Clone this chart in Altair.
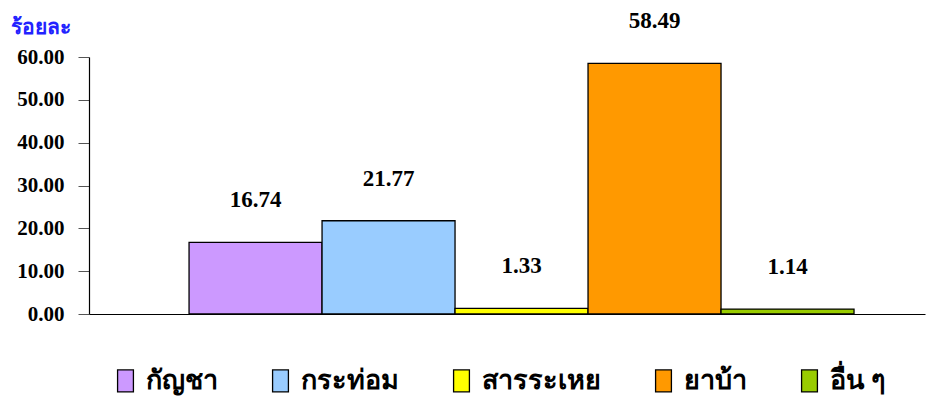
import altair as alt
import pandas as pd

categories = ["กัญชา", "กระท่อม", "สารระเหย", "ยาบ้า", "อื่น ๆ"]
values = [16.74, 21.77, 1.33, 58.49, 1.14]
colors = ["#CC99FF", "#99CCFF", "#FFFF00", "#FF9900", "#99CC00"]
y_ticks = [0, 10, 20, 30, 40, 50, 60]

SERIF = "'Liberation Serif', 'Times New Roman', Times, serif"

df = pd.DataFrame({"cat": categories, "val": values})

x_enc = alt.X(
    "cat:N", sort=categories,
    scale=alt.Scale(paddingInner=0, paddingOuter=0.643, align=0.585),
    axis=alt.Axis(labels=False, ticks=False, title=None, domainColor="black", domainWidth=1.2),
)
y_enc = alt.Y(
    "val:Q",
    scale=alt.Scale(domain=[0, 60], nice=False),
    axis=alt.Axis(
        values=y_ticks, format=".2f", grid=False, tickSize=11, tickColor="#555555",
        domainColor="black", domainWidth=1.2,
        labelFont=SERIF, labelFontWeight="bold", labelFontSize=21,
        labelColor="black", labelPadding=14,
        title="ร้อยละ", titleAngle=0, titleAlign="left", titleBaseline="alphabetic",
        titleX=-79, titleY=-24, titleColor="#2222FF", titleFontSize=21,
        titleFont=SERIF, titleFontWeight="bold",
    ),
)

bars = alt.Chart(df).mark_bar(stroke="black", strokeWidth=1.3).encode(
    x=x_enc, y=y_enc,
    color=alt.Color(
        "cat:N", sort=categories,
        scale=alt.Scale(domain=categories, range=colors),
        legend=alt.Legend(
            orient="none", legendX=23, legendY=310, direction="horizontal", title=None,
            symbolType="M-0.72,-1L0.72,-1L0.72,1L-0.72,1Z", symbolSize=484,
            symbolStrokeColor="black", symbolStrokeWidth=1.3, symbolOpacity=1,
            labelFont=SERIF, labelFontWeight="bold", labelFontSize=27,
            labelColor="black", labelOffset=7, columnPadding=49, labelLimit=300,
        ),
    ),
)

labels = alt.Chart(df).mark_text(
    dy=-42, font=SERIF, fontWeight="bold", fontSize=23,
    color="black", baseline="middle",
).encode(x=alt.X("cat:N", sort=categories), y="val:Q", text=alt.Text("val:Q", format=".2f"))

chart = (bars + labels).properties(
    width=836, height=257,
    autosize=alt.AutoSizeParams(type="none"),
    padding={"left": 81, "top": 49, "right": 8, "bottom": 84},
).configure_view(stroke=None)

chart.save("out.html", embed_options={"renderer": "svg", "actions": False})
